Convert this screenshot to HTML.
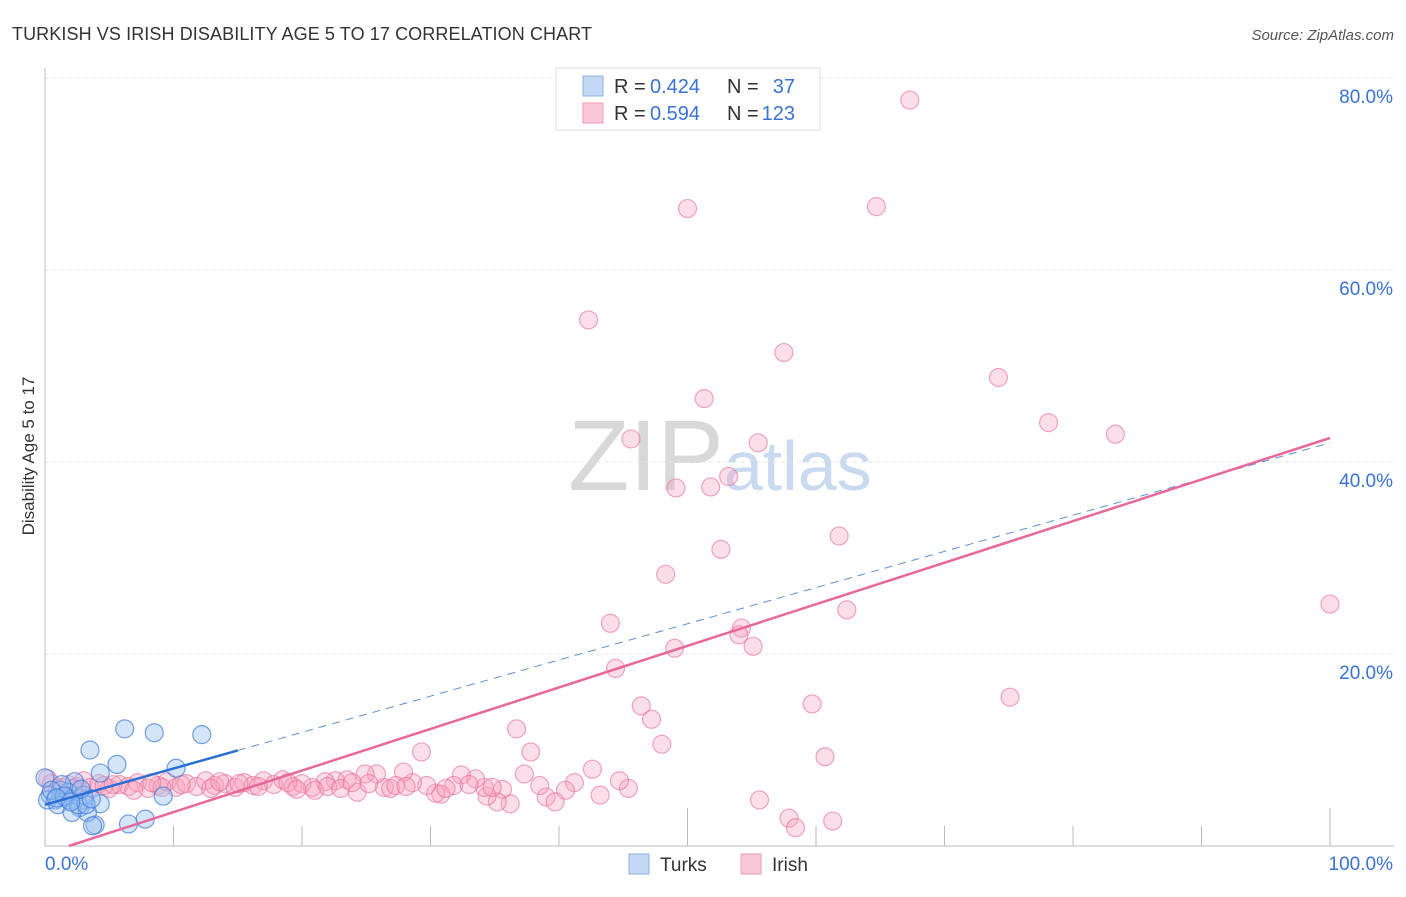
<!DOCTYPE html>
<html><head><meta charset="utf-8"><style>
body{margin:0;background:#fff;font-family:"Liberation Sans",sans-serif}
svg text{font-family:"Liberation Sans",sans-serif}
</style></head><body>
<svg id="chart" width="1406" height="892" xmlns="http://www.w3.org/2000/svg">
<text x="12" y="40" font-size="18" fill="#333" textLength="580">TURKISH VS IRISH DISABILITY AGE 5 TO 17 CORRELATION CHART</text>
<text x="1394" y="40" font-size="15" fill="#555" font-style="italic" text-anchor="end">Source: ZipAtlas.com</text>
<text x="34" y="456" font-size="17" fill="#333" transform="rotate(-90 34 456)" text-anchor="middle">Disability Age 5 to 17</text>
<text x="720" y="490" font-size="100" fill="#ddd" text-anchor="middle" font-family="Liberation Serif"><tspan fill="#d8d8d8">ZIP</tspan><tspan fill="#c9daf0" font-family="Liberation Sans" font-size="70">atlas</tspan></text>
<g id="grid"></g><g id="marks"></g>
<g>
<rect x="556" y="68" width="264" height="62" fill="#fff" stroke="#ddd"/>
<rect x="583" y="76" width="20" height="20" fill="#c4d8f4" stroke="#8ab0e6"/>
<text x="614" y="93" font-size="20" fill="#333">R =</text><text x="650" y="93" font-size="20" fill="#3a72d8">0.424</text>
<text x="727" y="93" font-size="20" fill="#333">N =</text><text x="795" y="93" font-size="20" fill="#3a72d8" text-anchor="end">37</text>
<rect x="583" y="103" width="20" height="20" fill="#f9c8d8" stroke="#ee9ab8"/>
<text x="614" y="120" font-size="20" fill="#333">R =</text><text x="650" y="120" font-size="20" fill="#3a72d8">0.594</text>
<text x="727" y="120" font-size="20" fill="#333">N =</text><text x="795" y="120" font-size="20" fill="#3a72d8" text-anchor="end">123</text>
</g>
<g>
<rect x="629" y="854" width="20" height="20" fill="#c4d8f4" stroke="#8ab0e6"/>
<text x="660" y="871" font-size="19" fill="#333">Turks</text>
<rect x="741" y="854" width="20" height="20" fill="#f9c8d8" stroke="#ee9ab8"/>
<text x="772" y="871" font-size="19" fill="#333">Irish</text>
</g>
</svg>
<script>
const yTicks=[20,40,60,80];
const yTickLabels=["20.0%","40.0%","60.0%","80.0%"];
const xTickLabels=["0.0%","100.0%"];
const turksX=[0,0.4,0.8,1.2,1.6,1.9,2.3,2.7,3.1,3.5,3.9,4.3,4.3,5.6,6.2,6.5,7.8,8.5,9.2,10.2,12.2,3.3,3.7,0.2,1.0,1.8,3.0,2.1,1.3,0.5,2.6,3.2,1.5,2.8,0.9,2.0,3.6];
const turksY=[7.1,5.3,4.8,5.8,5.0,4.8,6.7,4.0,4.8,10.0,2.2,7.6,4.4,8.5,12.2,2.3,2.8,11.8,5.2,8.1,11.6,3.5,2.1,4.8,4.3,5.6,5.3,3.5,6.4,5.8,4.3,4.3,5.2,5.9,5.0,4.6,4.9];
const irishX=[67.3,50.0,64.7,42.3,57.5,74.2,51.3,45.6,55.5,78.1,83.3,53.2,49.1,51.8,52.6,61.8,48.3,100,44.0,62.4,54.2,54.0,55.1,49.0,44.4,75.1,46.4,59.7,47.2,36.7,48.0,37.8,29.3,60.7,55.6,57.9,58.4,61.3,43.2,45.4,44.7,42.6,37.3,36.2,41.2,40.5,39.0,39.7,38.5,35.6,35.2,34.4,34.2,33.5,32.4,31.8,30.8,30.4,29.7,28.6,27.9,26.4,25.8,24.3,24.9,23.5,22.6,21.8,20.8,0.2,0.5,1,1.8,2.5,3,3.5,4.2,5,5.8,6.5,7.2,8,8.8,9.5,10.2,11,11.8,12.5,13.2,14,14.8,15.5,16.2,17,17.8,18.5,19.3,20,21,22,23,2.2,4.6,6.9,9.1,10.6,12.9,15.1,16.6,18.9,19.6,13.6,8.3,5.3,1.4,26.9,27.3,31.2,33,34.8,25.2,28.1,23.9];
const irishY=[77.7,66.4,66.6,54.8,51.4,48.8,46.6,42.4,42.0,44.1,42.9,38.5,37.3,37.4,30.9,32.3,28.3,25.2,23.2,24.6,22.7,22.0,20.8,20.6,18.5,15.5,14.6,14.8,13.2,12.2,10.6,9.8,9.8,9.3,4.8,2.9,1.9,2.6,5.3,6.0,6.8,8.0,7.5,4.4,6.6,5.8,5.1,4.6,6.3,5.9,4.6,5.2,6.1,7.0,7.4,6.3,5.4,5.5,6.3,6.6,7.7,6.1,7.5,5.6,7.5,6.9,6.8,6.7,6.1,7.0,6.5,6.0,6.4,6.2,6.8,6.1,6.5,6.0,6.4,6.2,6.6,6.0,6.3,6.7,6.1,6.5,6.2,6.8,6.3,6.5,6.1,6.6,6.3,6.8,6.4,6.9,6.2,6.5,5.8,6.2,6.0,6.0,6.3,5.8,6.1,6.4,6.0,6.5,6.2,6.6,5.9,6.7,6.6,6.4,6.1,6.0,6.3,6.0,6.4,6.1,6.5,6.2,6.6];
const turksLine=[4.3,42.0];
const irishLine=[-0.8,42.5];
const turksSolidEnd=15;

const X=v=>45+v*12.85, Y=v=>846-v*9.6;
const NS="http://www.w3.org/2000/svg";
const grid=document.getElementById('grid'), marks=document.getElementById('marks');
function mk(tag,attrs,parent){const e=document.createElementNS(NS,tag);for(const k in attrs)e.setAttribute(k,attrs[k]);parent.appendChild(e);return e;}
let a=mk('line',{x1:45,y1:68,x2:45,y2:846,stroke:'#bbb'},grid);


a=mk('line',{x1:45,y1:846,x2:1394,y2:846,stroke:'#bbb'},grid);


yTicks.forEach((t,i)=>{
  const g=mk('line',{x1:45,y1:Y(t),x2:1394,y2:Y(t),stroke:'#e4e4e4','stroke-dasharray':'4,4'},grid);
  
  
  const l=mk('text',{x:1393,y:Y(t)+25,'font-size':19,fill:'#3a72d8','text-anchor':'end'},grid);l.textContent=yTickLabels[i];
  
  
});
for(let i=1;i<=10;i++){
  const x=45+i*128.5; const tk=mk('line',{x1:x,y1:i%5==0?808:826,x2:x,y2:846,stroke:'#bbb'},grid);
  
  
}
let xl=mk('text',{x:45,y:870,'font-size':19,fill:'#3a72d8'},grid);xl.textContent=xTickLabels[0];


xl=mk('text',{x:1393,y:870,'font-size':19,fill:'#3a72d8','text-anchor':'end'},grid);xl.textContent=xTickLabels[1];


irishX.forEach((x,i)=>{const c=mk('circle',{cx:X(x),cy:Y(irishY[i]),r:9,fill:'rgba(246,160,190,0.35)',stroke:'rgba(232,110,150,0.6)','stroke-width':1.2},marks);
  
  });
turksX.forEach((x,i)=>{const c=mk('circle',{cx:X(x),cy:Y(turksY[i]),r:9,fill:'rgba(150,190,240,0.4)',stroke:'rgba(60,120,220,0.7)','stroke-width':1.2},marks);
  
  });
const ty=x=>turksLine[0]+(turksLine[1]-turksLine[0])*x/100, iy=x=>irishLine[0]+(irishLine[1]-irishLine[0])*x/100;
let ln=mk('line',{x1:X(turksSolidEnd),y1:Y(ty(turksSolidEnd)),x2:X(100),y2:Y(ty(100)),stroke:'#5b8fdc','stroke-width':1,'stroke-dasharray':'8,6'},marks);


ln=mk('line',{x1:X(0),y1:Y(ty(0)),x2:X(turksSolidEnd),y2:Y(ty(turksSolidEnd)),stroke:'#2a6fd6','stroke-width':2.5},marks);


const x0=-irishLine[0]/(irishLine[1]-irishLine[0])*100;
ln=mk('line',{x1:X(x0),y1:Y(0),x2:X(100),y2:Y(iy(100)),stroke:'#e8689a','stroke-width':2.5},marks);


</script>
</body></html>
